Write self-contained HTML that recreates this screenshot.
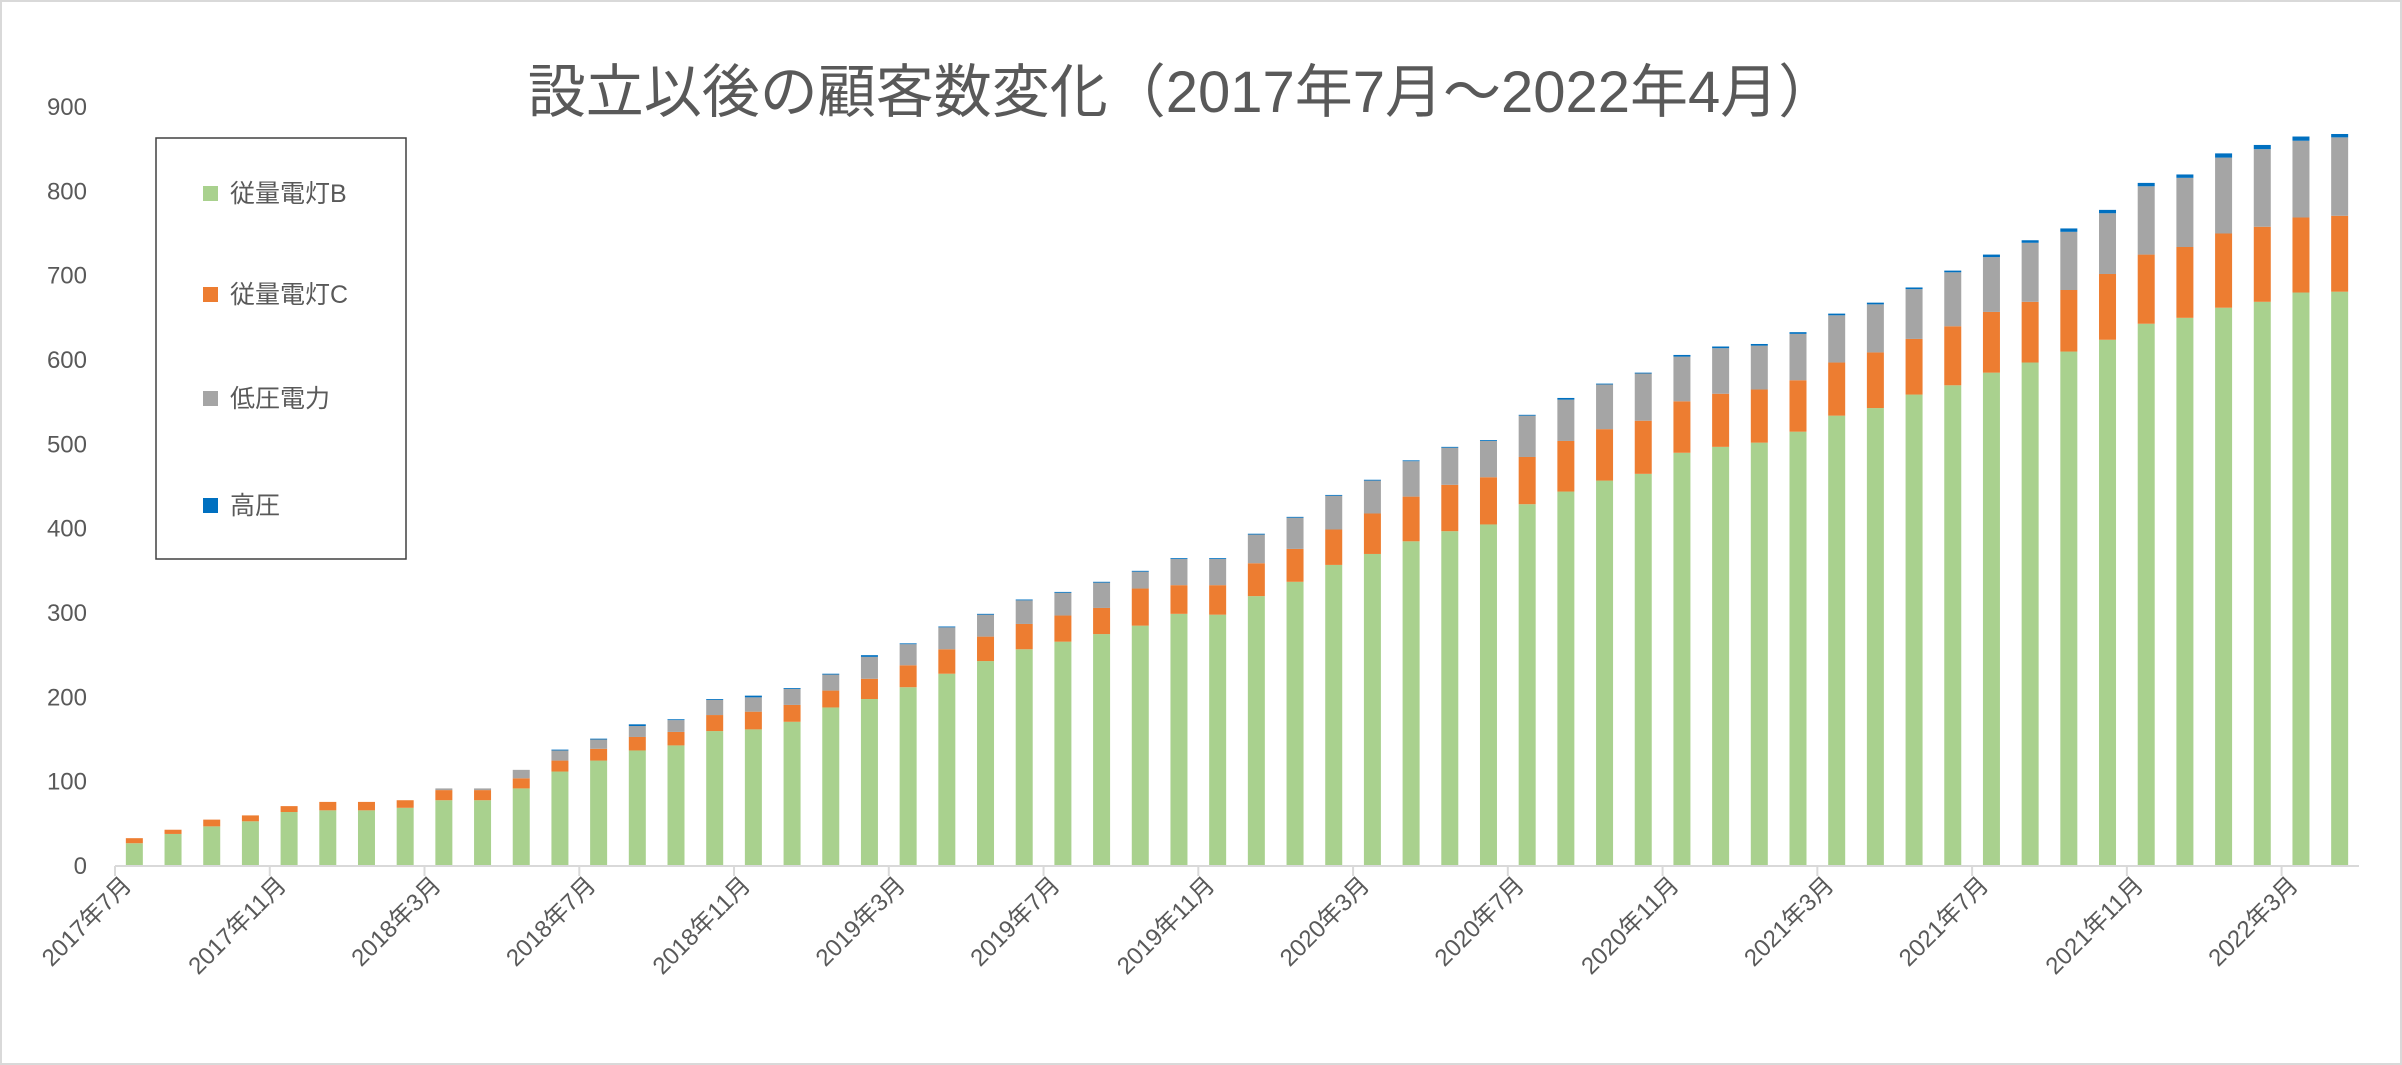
<!DOCTYPE html>
<html><head><meta charset="utf-8"><style>
html,body{margin:0;padding:0;background:#fff;}
svg{display:block;font-family:"Liberation Sans","Noto Sans CJK JP",sans-serif;}
</style></head><body>
<svg id="chart" width="2402" height="1065" viewBox="0 0 2402 1065" xmlns="http://www.w3.org/2000/svg">
<rect x="1" y="1" width="2400" height="1063" fill="#fff" stroke="#d9d9d9" stroke-width="2"/>
<text x="1182" y="112" font-size="58" fill="#595959" text-anchor="middle" font-family="Liberation Sans, Noto Sans CJK JP, sans-serif">設立以後の顧客数変化（2017年7月～2022年4月）</text>
<g id="yaxis"></g>
<g id="bars"></g>
<g id="xaxis"></g>
<g>
<rect x="156" y="138" width="250" height="421" fill="#fff" stroke="#404040" stroke-width="1.5"/>
<g><rect x="203" y="186" width="15" height="15" fill="#a9d18e"/><text x="230" y="202" font-size="25" fill="#595959">従量電灯B</text></g>
<g><rect x="203" y="287" width="15" height="15" fill="#ed7d31"/><text x="230" y="303" font-size="25" fill="#595959">従量電灯C</text></g>
<g><rect x="203" y="391" width="15" height="15" fill="#a5a5a5"/><text x="230" y="407" font-size="25" fill="#595959">低圧電力</text></g>
<g><rect x="203" y="498" width="15" height="15" fill="#0070c0"/><text x="230" y="514" font-size="25" fill="#595959">高圧</text></g>
</g>
</svg>
<script>
const startYear = 2017, startMonth = 7;
const greenB = [27,38,47,53,64,66,66,69,78,78,92,112,125,137,143,160,162,171,188,198,212,228,243,257,266,275,285,299,298,320,337,357,370,385,397,405,429,444,457,465,490,497,502,515,534,543,559,570,585,597,610,624,643,650,662,669,680,681];
const orangeC = [6,5,8,7,7,10,10,9,12,12,12,13,14,16,16,19,21,20,20,24,26,29,29,30,31,31,44,34,35,39,39,42,48,53,55,56,56,60,61,63,61,63,63,61,63,66,66,70,72,72,73,78,82,84,88,89,89,90];
const grayLow = [0,0,0,0,0,0,0,0,2,2,10,12,11,13,14,18,17,19,19,26,25,26,26,28,27,30,20,31,31,34,37,40,39,42,44,43,49,49,53,56,53,54,52,55,56,57,59,64,65,70,69,72,81,82,90,92,91,93];
const blueHigh = [0,0,0,0,0,0,0,0,0,0,0,1,1,2,1,1,2,1,1,2,1,1,1,1,1,1,1,1,1,1,1,1,1,1,1,1,1,2,1,1,2,2,2,2,2,2,2,2,3,3,4,4,4,4,5,5,5,4];
const yTicks = [0,100,200,300,400,500,600,700,800,900];

const NS = "http://www.w3.org/2000/svg";
const X0 = 115, X1 = 2359, Y0 = 866, Ytop = 107, YMAX = 900;
const n = greenB.length;
const step = (X1 - X0) / n;
const xC = i => X0 + step * (i + 0.5);
const yS = v => Y0 - (v / YMAX) * (Y0 - Ytop);
function mk(tag, attrs, parent){const e=document.createElementNS(NS,tag);for(const k in attrs)e.setAttribute(k,attrs[k]);parent.appendChild(e);return e;}

const ya = document.getElementById('yaxis');
yTicks.forEach(t=>{
  const tx = mk('text',{x:87,y:yS(t)+8,'font-size':24,fill:'#595959','text-anchor':'end'},ya);
  
  
  tx.textContent = t;
});

const bg = document.getElementById('bars');
const series = [[greenB,'#a9d18e','bar-juryo-b'],[orangeC,'#ed7d31','bar-juryo-c'],[grayLow,'#a5a5a5','bar-low-voltage'],[blueHigh,'#0070c0','bar-high-voltage']];
const bw = 17;
for(let i=0;i<n;i++){
  let base = 0;
  series.forEach(s=>{
    const v = s[0][i];
    if(v>0){
      const r = mk('rect',{x:xC(i)-bw/2,y:yS(base+v),width:bw,height:yS(base)-yS(base+v),fill:s[1]},bg);
      
      
    }
    base += v;
  });
}

const xa = document.getElementById('xaxis');
const ax = mk('line',{x1:X0,y1:Y0,x2:X1,y2:Y0,stroke:'#d9d9d9','stroke-width':2},xa);


for(let i=0;i<=n;i+=4){
  const tk = mk('line',{x1:X0+step*i,y1:Y0,x2:X0+step*i,y2:Y0+10,stroke:'#d9d9d9','stroke-width':2},xa);
  
  
}
for(let i=0;i<n;i+=4){
  const m = startMonth - 1 + i;
  const label = (startYear + Math.floor(m/12)) + '年' + (m%12+1) + '月';
  const cx = xC(i)-6, cy = Y0+16;
  const tx = mk('text',{x:cx,y:cy,'font-size':24,fill:'#595959','text-anchor':'end',transform:`rotate(-45 ${cx} ${cy})`,'dominant-baseline':'middle'},xa);
  
  
  tx.textContent = label;
}
</script>
</body></html>
